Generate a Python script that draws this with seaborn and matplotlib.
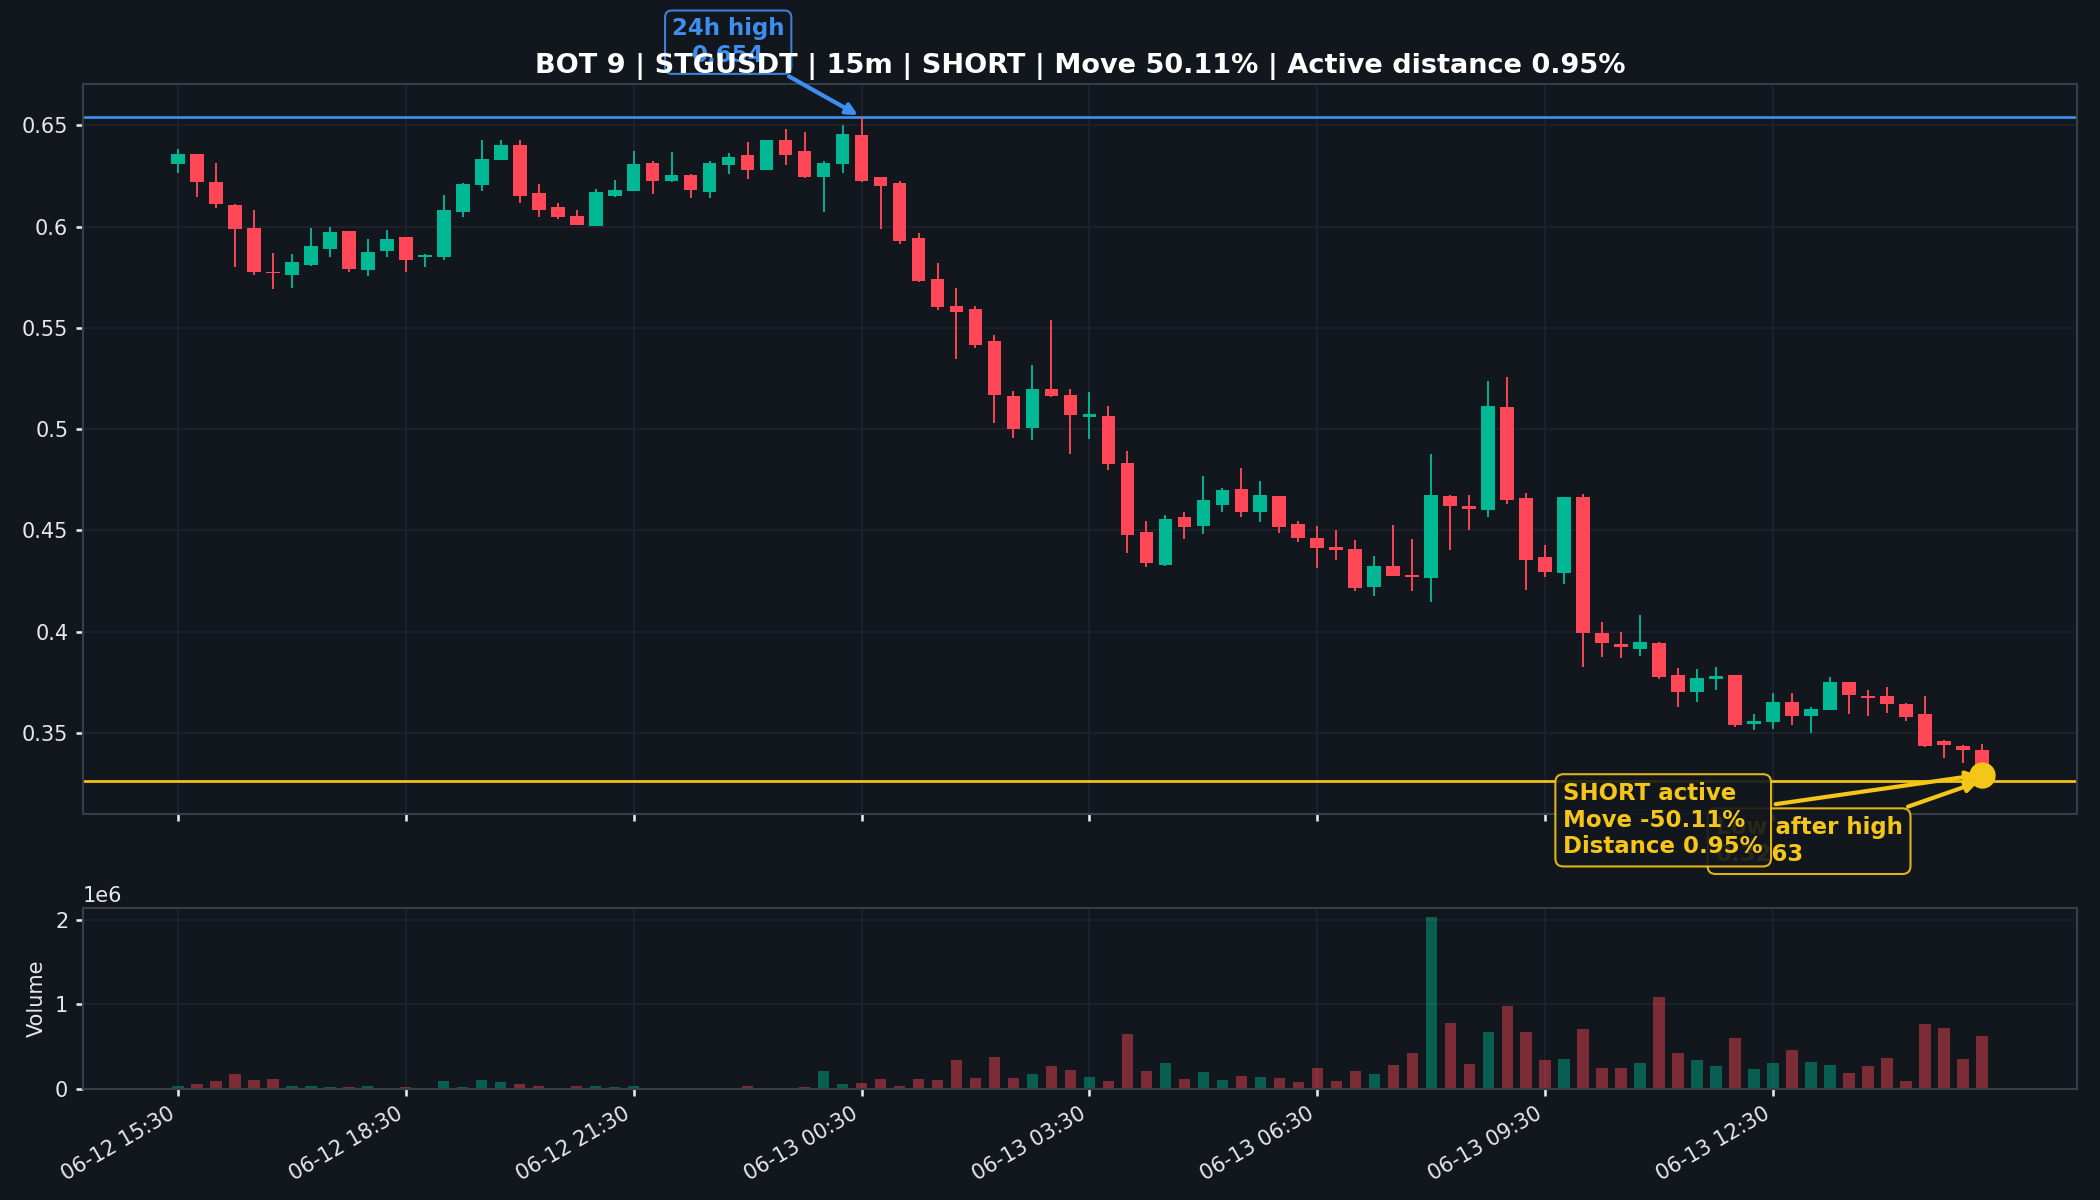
import numpy as np
import pandas as pd
import matplotlib
matplotlib.use("Agg")
import matplotlib.pyplot as plt
import matplotlib.dates as mdates
import matplotlib.ticker as mticker
import seaborn as sns

# ---------------- data ----------------
start_time = "2025-06-12 15:30"
n_candles = 96

opens = [0.6307, 0.6357, 0.6219, 0.6107, 0.5992, 0.5773, 0.5762, 0.5810, 0.5890, 0.5978,
         0.5787, 0.5877, 0.5948, 0.5849, 0.5851, 0.6072, 0.6203, 0.6330, 0.6403, 0.6167,
         0.6095, 0.6051, 0.6005, 0.6153, 0.6176, 0.6314, 0.6226, 0.6256, 0.6169, 0.6302,
         0.6353, 0.6281, 0.6426, 0.6373, 0.6247, 0.6307, 0.6452, 0.6245, 0.6217, 0.5943,
         0.5741, 0.5610, 0.5591, 0.5433, 0.5161, 0.5007, 0.5196, 0.5170, 0.5060, 0.5065,
         0.4832, 0.4490, 0.4329, 0.4566, 0.4522, 0.4625, 0.4706, 0.4591, 0.4667, 0.4529,
         0.4464, 0.4418, 0.4407, 0.4218, 0.4322, 0.4280, 0.4264, 0.4669, 0.4621, 0.4598,
         0.5108, 0.4658, 0.4367, 0.4287, 0.4665, 0.3993, 0.3938, 0.3913, 0.3942, 0.3784,
         0.3700, 0.3767, 0.3784, 0.3544, 0.3554, 0.3653, 0.3584, 0.3613, 0.3749, 0.3682,
         0.3684, 0.3643, 0.3591, 0.3457, 0.3436, 0.3413]
highs = [0.6385, 0.6360, 0.6316, 0.6111, 0.6081, 0.5870, 0.5865, 0.5994, 0.5999, 0.5980,
         0.5939, 0.5982, 0.5950, 0.5865, 0.6155, 0.6215, 0.6426, 0.6426, 0.6426, 0.6210,
         0.6118, 0.6081, 0.6187, 0.6231, 0.6373, 0.6323, 0.6369, 0.6258, 0.6325, 0.6364,
         0.6417, 0.6428, 0.6482, 0.6468, 0.6325, 0.6502, 0.6540, 0.6245, 0.6226, 0.5969,
         0.5819, 0.5697, 0.5608, 0.5463, 0.5187, 0.5315, 0.5536, 0.5196, 0.5184, 0.5113,
         0.4892, 0.4545, 0.4575, 0.4589, 0.4768, 0.4708, 0.4807, 0.4743, 0.4669, 0.4545,
         0.4522, 0.4501, 0.4451, 0.4375, 0.4527, 0.4458, 0.4876, 0.4674, 0.4676, 0.5235,
         0.5256, 0.4683, 0.4425, 0.4665, 0.4678, 0.4046, 0.4000, 0.4080, 0.3949, 0.3820,
         0.3813, 0.3827, 0.3786, 0.3595, 0.3696, 0.3696, 0.3625, 0.3776, 0.3751, 0.3710,
         0.3724, 0.3645, 0.3684, 0.3464, 0.3438, 0.3443]
lows = [0.6265, 0.6146, 0.6093, 0.5798, 0.5759, 0.5690, 0.5697, 0.5805, 0.5849, 0.5773,
        0.5757, 0.5851, 0.5775, 0.5798, 0.5835, 0.6049, 0.6173, 0.6328, 0.6118, 0.6049,
        0.6035, 0.6010, 0.6005, 0.6146, 0.6176, 0.6162, 0.6222, 0.6139, 0.6139, 0.6261,
        0.6233, 0.6281, 0.6302, 0.6242, 0.6072, 0.6265, 0.6219, 0.5989, 0.5916, 0.5727,
        0.5589, 0.5345, 0.5398, 0.5030, 0.4957, 0.4948, 0.5157, 0.4878, 0.4952, 0.4800,
        0.4388, 0.4321, 0.4324, 0.4455, 0.4483, 0.4589, 0.4568, 0.4543, 0.4487, 0.4444,
        0.4315, 0.4352, 0.4200, 0.4175, 0.4276, 0.4200, 0.4147, 0.4402, 0.4499, 0.4568,
        0.4632, 0.4204, 0.4271, 0.4234, 0.3827, 0.3873, 0.3869, 0.3880, 0.3767, 0.3626,
        0.3652, 0.3712, 0.3528, 0.3512, 0.3521, 0.3540, 0.3500, 0.3613, 0.3595, 0.3581,
        0.3597, 0.3558, 0.3430, 0.3376, 0.3353, 0.3263]
closes = [0.6357, 0.6222, 0.6109, 0.5989, 0.5773, 0.5769, 0.5824, 0.5904, 0.5973, 0.5789,
          0.5874, 0.5939, 0.5835, 0.5858, 0.6081, 0.6210, 0.6334, 0.6403, 0.6153, 0.6084,
          0.6045, 0.6010, 0.6171, 0.6180, 0.6309, 0.6226, 0.6254, 0.6178, 0.6314, 0.6341,
          0.6277, 0.6426, 0.6355, 0.6247, 0.6314, 0.6456, 0.6224, 0.6199, 0.5930, 0.5732,
          0.5603, 0.5580, 0.5414, 0.5166, 0.4998, 0.5196, 0.5164, 0.5067, 0.5072, 0.4826,
          0.4478, 0.4340, 0.4554, 0.4517, 0.4651, 0.4701, 0.4591, 0.4674, 0.4517, 0.4464,
          0.4414, 0.4402, 0.4214, 0.4322, 0.4276, 0.4269, 0.4674, 0.4621, 0.4605, 0.5113,
          0.4649, 0.4352, 0.4294, 0.4665, 0.3993, 0.3942, 0.3924, 0.3947, 0.3777, 0.3700,
          0.3770, 0.3778, 0.3538, 0.3556, 0.3653, 0.3584, 0.3618, 0.3753, 0.3686, 0.3671,
          0.3643, 0.3578, 0.3437, 0.3441, 0.3413, 0.3294]
volumes_m = [0.040, 0.063, 0.098, 0.180, 0.110, 0.120, 0.040, 0.040, 0.028, 0.028,
             0.040, 0.016, 0.028, 0.016, 0.098, 0.028, 0.110, 0.087, 0.063, 0.040,
             0.016, 0.040, 0.040, 0.028, 0.040, 0.005, 0.004, 0.005, 0.016, 0.005,
             0.040, 0.016, 0.016, 0.028, 0.217, 0.063, 0.075, 0.122, 0.040, 0.122,
             0.110, 0.346, 0.134, 0.382, 0.134, 0.180, 0.276, 0.228, 0.146, 0.098,
             0.654, 0.217, 0.311, 0.122, 0.205, 0.110, 0.157, 0.146, 0.134, 0.087,
             0.252, 0.098, 0.217, 0.180, 0.287, 0.429, 2.035, 0.783, 0.299, 0.677,
             0.984, 0.677, 0.346, 0.358, 0.713, 0.252, 0.252, 0.311, 1.090, 0.429,
             0.346, 0.276, 0.606, 0.240, 0.311, 0.465, 0.323, 0.287, 0.193, 0.276,
             0.370, 0.098, 0.772, 0.724, 0.358, 0.630]

title_text = "BOT 9 | STGUSDT | 15m | SHORT | Move 50.11% | Active distance 0.95%"
high_label = "24h high\n0.654"
low_label = "Low after high\n0.3263"
active_label = "SHORT active\nMove -50.11%\nDistance 0.95%"
tick_step = 12

# ---------------- style ----------------
BG = "#12161d"
GRID = "#1f242c"
SPINE = "#383d48"
FG = "#e6e8ec"
GREEN = "#00b894"
RED = "#ff4757"
BLUE = "#3d8ef0"
GOLD = "#f5c518"

sns.set_theme(style="darkgrid", rc={
    "figure.facecolor": BG, "axes.facecolor": BG, "axes.edgecolor": SPINE,
    "axes.linewidth": 1.0, "grid.color": GRID, "grid.linewidth": 0.8,
    "text.color": FG, "axes.labelcolor": FG, "xtick.color": FG, "ytick.color": FG,
    "xtick.bottom": True, "ytick.left": True, "xtick.major.size": 3.5,
    "ytick.major.size": 3.5, "xtick.labelsize": 10, "ytick.labelsize": 10,
    "axes.labelsize": 10,
})
plt.rcParams["font.family"] = ["DejaVu Sans"]

df = pd.DataFrame({
    "time": pd.date_range(start_time, periods=n_candles, freq="15min"),
    "open": opens, "high": highs, "low": lows, "close": closes,
    "volume": np.array(volumes_m) * 1e6,
})
df["up"] = df["close"] >= df["open"]
df["color"] = np.where(df["up"], GREEN, RED)
x = mdates.date2num(df["time"])
step = 1.0 / 96.0

fig = plt.figure(figsize=(14, 8), dpi=150)
ax = fig.add_axes([0.0395, 0.3217, 0.9495, 0.6083])
axv = fig.add_axes([0.0395, 0.0925, 0.9495, 0.1508], sharex=ax)

# candles
ax.vlines(x, df["low"], df["high"], colors=df["color"], lw=0.9, zorder=2)
body_lo = np.minimum(df["open"], df["close"])
body_h = np.maximum((df["close"] - df["open"]).abs(), 0.0008)
ax.bar(x, body_h, bottom=body_lo, width=0.72 * step, color=df["color"],
       linewidth=0, zorder=3)

hi_idx = int(df["high"].idxmax())
hi_val = df["high"].max()
low_val = df["low"].iloc[hi_idx:].min()
last_close = df["close"].iloc[-1]

ax.axhline(hi_val, color=BLUE, lw=1.3, zorder=1.5)
ax.axhline(low_val, color=GOLD, lw=1.3, zorder=1.5)

span = hi_val - low_val
ax.set_ylim(low_val - 0.05 * span, hi_val + 0.05 * span)
ax.set_xlim(x[0] - 5 * step, x[-1] + 5 * step)
ax.yaxis.set_major_formatter(mticker.FuncFormatter(lambda v, p: f"{v:g}"))

sns.scatterplot(x=[x[-1]], y=[last_close], s=160, color=GOLD, edgecolor=GOLD,
                linewidth=0, zorder=6, ax=ax, legend=False)

# annotations
ax.annotate(high_label, xy=(x[hi_idx], hi_val), xytext=(-64, 36),
            textcoords="offset points", ha="center", va="center", color=BLUE,
            fontsize=11, fontweight="bold", annotation_clip=False,
            bbox=dict(boxstyle="round,pad=0.3", fc=BG, ec=BLUE, lw=1.0, alpha=0.9),
            arrowprops=dict(arrowstyle="-|>", color=BLUE, lw=2), zorder=4)
ax.annotate(low_label, xy=(x[-1], low_val), xytext=(-83, -29),
            textcoords="offset points", ha="center", va="center", ma="left",
            color=GOLD, fontsize=11, fontweight="bold", annotation_clip=False,
            bbox=dict(boxstyle="round,pad=0.35", fc=BG, ec=GOLD, lw=1.0, alpha=0.9),
            arrowprops=dict(arrowstyle="-|>", color=GOLD, lw=2), zorder=7)
ax.annotate(active_label, xy=(x[-1], last_close), xytext=(-153, -22),
            textcoords="offset points", ha="center", va="center", ma="left",
            color=GOLD, fontsize=11, fontweight="bold", annotation_clip=False,
            bbox=dict(boxstyle="round,pad=0.35", fc=BG, ec=GOLD, lw=1.0, alpha=0.9),
            arrowprops=dict(arrowstyle="-|>", color=GOLD, lw=2), zorder=8)

ax.set_title(title_text, fontsize=13, fontweight="bold", color="white", pad=5.5)
ax.title.set_zorder(20)

# volume
axv.bar(x, df["volume"], width=0.6 * step, color=df["color"], alpha=0.45,
        linewidth=0)
axv.set_ylim(0, df["volume"].max() * 1.05)
axv.set_ylabel("Volume")
axv.yaxis.get_offset_text().set_color(FG)

ax.set_xticks(x[::tick_step])
axv.xaxis.set_major_formatter(mdates.DateFormatter("%m-%d %H:%M"))
ax.tick_params(labelbottom=False)
plt.setp(axv.get_xticklabels(), rotation=30, ha="right")

for a in (ax, axv):
    a.grid(True, color=GRID, lw=0.8)
    a.set_axisbelow(True)
    for s in a.spines.values():
        s.set_visible(True)
        s.set_color(SPINE)
        s.set_linewidth(1.0)

fig.savefig("out.png", dpi=150, facecolor=BG)
